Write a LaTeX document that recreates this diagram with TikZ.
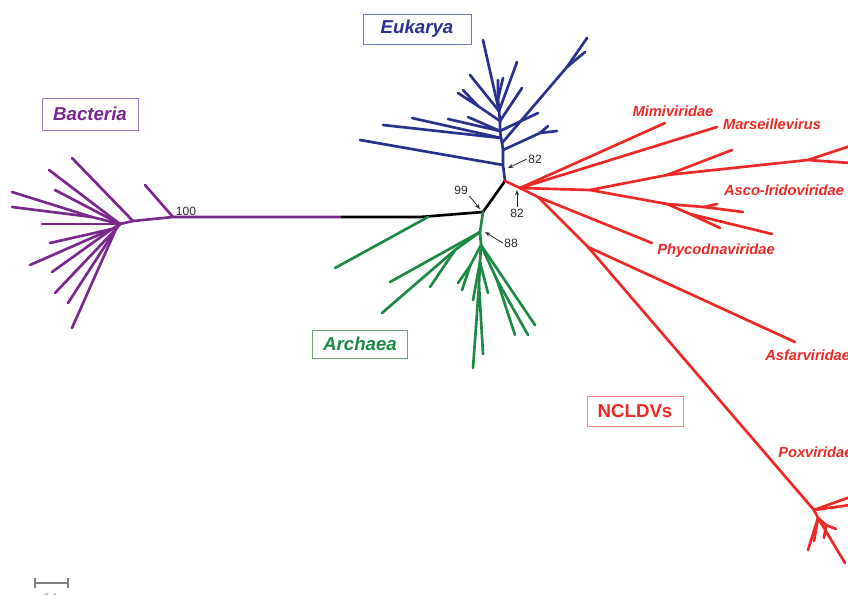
\documentclass[tikz,border=0pt]{standalone}
\usepackage{fontspec}
\setmainfont{Liberation Sans}
\usetikzlibrary{arrows.meta}
\definecolor{bac}{RGB}{122,40,142}
\definecolor{euk}{RGB}{40,50,140}
\definecolor{arc}{RGB}{28,138,68}
\definecolor{ncl}{RGB}{238,40,36}
\definecolor{bacbox}{RGB}{165,120,185}
\definecolor{eukbox}{RGB}{110,120,180}
\definecolor{arcbox}{RGB}{110,165,120}
\definecolor{nclbox}{RGB}{240,140,130}
\definecolor{numc}{RGB}{40,40,40}
\begin{document}
\begin{tikzpicture}[x=0.75pt,y=-0.75pt,
  br/.style={line width=2pt,line cap=round,line join=round},
  grpbox/.style={draw,line width=0.6pt,inner sep=0pt,font=\fontsize{14}{14}\selectfont\bfseries\itshape},
  vlab/.style={font=\fontsize{11}{11}\selectfont\bfseries\itshape,text=ncl,inner sep=0pt},
  supval/.style={font=\fontsize{9}{9}\selectfont,text=numc,inner sep=1pt},
  suparr/.style={-{Stealth[length=4pt,width=3pt]},line width=0.6pt,draw=numc}]
\useasboundingbox (0,0) rectangle (848,594);
\fill[white] (0,0) rectangle (848,594);

% ---------- Bacteria ----------
\coordinate (B0) at (342,217);
\coordinate (B1) at (173,217);
\coordinate (Bt1) at (145,185);
\coordinate (B2) at (133,221);
\coordinate (Bt2) at (72,158);
\coordinate (B3) at (120,224);
\coordinate (Bt3) at (49,170);
\coordinate (Bt4) at (55,190);
\coordinate (B6) at (92,217);
\coordinate (Bt5) at (12,192);
\coordinate (Bt6) at (12,207);
\coordinate (Bt7) at (42,224);
\coordinate (B4) at (112,229);
\coordinate (Bt8) at (50,243);
\coordinate (Bt9) at (30,265);
\coordinate (Bt10) at (52,272);
\coordinate (B5) at (116,229);
\coordinate (Bt11) at (55,293);
\coordinate (Bt12) at (68,303);
\coordinate (Bt13) at (72,328);
\begin{scope}[br,draw=bac]
\draw (B0) -- (B1) -- (B2) -- (B3);
\draw (B1) -- (Bt1);
\draw (B2) -- (Bt2);
\draw (B3) -- (Bt3);
\draw (B3) -- (Bt4);
\draw (B3) -- (B6) -- (Bt5);
\draw (B6) -- (Bt6);
\draw (B3) -- (Bt7);
\draw (B3) -- (B4) -- (Bt8);
\draw (B4) -- (Bt9);
\draw (B4) -- (Bt10);
\draw (B3) -- (B5) -- (Bt11);
\draw (B5) -- (Bt12);
\draw (B5) -- (Bt13);
\end{scope}

% ---------- backbone ----------
\coordinate (K1) at (420,217);
\coordinate (C1) at (483,212);
\coordinate (C2) at (505,181);
\draw[br,black] (B0) -- (K1) -- (C1) -- (C2);

% ---------- Eukarya ----------
\coordinate (T1) at (503,165);
\coordinate (T2) at (503,150);
\coordinate (T3) at (502,143);
\coordinate (T4) at (501,138);
\coordinate (T5) at (500,131);
\coordinate (T6) at (500,121);
\coordinate (T7) at (499,111);
\coordinate (T8) at (498,99);
\coordinate (T9) at (498,80);
\coordinate (Et1) at (360,140);
\coordinate (E2a) at (540,133);
\coordinate (Et2) at (557,131);
\coordinate (Et3) at (548,126);
\coordinate (E3a) at (567,67);
\coordinate (Et4) at (587,38);
\coordinate (Et5) at (585,52);
\coordinate (Et6) at (383,125);
\coordinate (Et7) at (412,118);
\coordinate (Et8) at (448,119);
\coordinate (Et9) at (468,117);
\coordinate (Et10) at (538,113);
\coordinate (E6a) at (478,106);
\coordinate (Et11) at (458,93);
\coordinate (Et12) at (463,90);
\coordinate (Et13) at (522,88);
\coordinate (Et14) at (470,75);
\coordinate (Et15) at (517,62);
\coordinate (Et16) at (483,40);
\coordinate (Et17) at (503,78);
\begin{scope}[br,draw=euk]
\draw (C2) -- (T1) -- (T2) -- (T3) -- (T4) -- (T5) -- (T6) -- (T7) -- (T8) -- (T9);
\draw (T1) -- (Et1);
\draw (T2) -- (E2a) -- (Et2);
\draw (E2a) -- (Et3);
\draw (T3) -- (E3a) -- (Et4);
\draw (E3a) -- (Et5);
\draw (T4) -- (Et6);
\draw (T4) -- (Et7);
\draw (T5) -- (Et8);
\draw (T5) -- (Et9);
\draw (T5) -- (Et10);
\draw (T6) -- (E6a) -- (Et11);
\draw (E6a) -- (Et12);
\draw (T6) -- (Et13);
\draw (T7) -- (Et14);
\draw (T7) -- (Et15);
\draw (T7) -- (Et16);
\draw (T8) -- (Et17);
\end{scope}

% ---------- Archaea ----------
\coordinate (Ga) at (428,217);
\coordinate (At1) at (335,268);
\coordinate (G1) at (480,232);
\coordinate (At2) at (390,282);
\coordinate (G1a) at (455,250);
\coordinate (At3) at (382,313);
\coordinate (At4) at (430,287);
\coordinate (G2) at (481,245);
\coordinate (G2a) at (470,266);
\coordinate (At5) at (462,290);
\coordinate (At6) at (458,283);
\coordinate (G3) at (480,262);
\coordinate (At7) at (473,300);
\coordinate (At8) at (488,293);
\coordinate (G4) at (479,285);
\coordinate (At9) at (473,368);
\coordinate (At10) at (483,354);
\coordinate (At11) at (535,325);
\coordinate (G5) at (497,280);
\coordinate (At12) at (515,335);
\coordinate (At13) at (528,335);
\begin{scope}[br,draw=arc]
\draw (Ga) -- (At1);
\draw (C1) -- (G1) -- (G2) -- (G3) -- (G4) -- (At9);
\draw (G1) -- (At2);
\draw (G1) -- (G1a) -- (At3);
\draw (G1a) -- (At4);
\draw (G2) -- (G2a) -- (At5);
\draw (G2a) -- (At6);
\draw (G3) -- (At7);
\draw (G3) -- (At8);
\draw (G4) -- (At10);
\draw (G2) -- (At11);
\draw (G2) -- (G5) -- (At12);
\draw (G5) -- (At13);
\end{scope}

% ---------- NCLDVs ----------
\coordinate (H) at (520,188);
\coordinate (Nt1) at (665,123);
\coordinate (Nt2) at (717,127);
\coordinate (Q) at (590,190);
\coordinate (Q1) at (667,175);
\coordinate (Nt3) at (732,150);
\coordinate (Q2) at (808,160);
\coordinate (Nt4) at (850,146);
\coordinate (Nt5) at (850,163);
\coordinate (P1) at (667,204);
\coordinate (P3) at (704,207);
\coordinate (Nt6) at (717,204);
\coordinate (Nt7) at (743,212);
\coordinate (P2) at (690,214);
\coordinate (Nt8) at (720,228);
\coordinate (Nt9) at (772,234);
\coordinate (S) at (538,197);
\coordinate (Nt10) at (652,243);
\coordinate (T) at (588,247);
\coordinate (Nt11) at (795,342);
\coordinate (U) at (814,510);
\coordinate (Nt12) at (850,497);
\coordinate (Nt13) at (850,505);
\coordinate (V) at (818,518);
\coordinate (Nt14) at (808,550);
\coordinate (Nt15) at (814,541);
\coordinate (V2) at (826,525);
\coordinate (Nt16) at (824,538);
\coordinate (Nt17) at (836,529);
\coordinate (Nt18) at (845,563);
\begin{scope}[br,draw=ncl]
\draw (C2) -- (H);
\draw (H) -- (Nt1);
\draw (H) -- (Nt2);
\draw (H) -- (Q) -- (Q1) -- (Nt3);
\draw (Q1) -- (Q2) -- (Nt4);
\draw (Q2) -- (Nt5);
\draw (Q) -- (P1) -- (P3) -- (Nt7);
\draw (P3) -- (Nt6);
\draw (P1) -- (P2) -- (Nt9);
\draw (P2) -- (Nt8);
\draw (H) -- (S) -- (Nt10);
\draw (S) -- (T) -- (Nt11);
\draw (T) -- (U) -- (Nt12);
\draw (U) -- (Nt13);
\draw (U) -- (V) -- (Nt14);
\draw (V) -- (Nt15);
\draw (V) -- (V2) -- (Nt16);
\draw (V2) -- (Nt17);
\draw (V) -- (Nt18);
\end{scope}

% ---------- group labels ----------
\node[grpbox,draw=bacbox,text=bac,minimum width=72pt,minimum height=24pt] (lbac) at (90,114) {Bacteria};
\node[grpbox,draw=eukbox,text=euk,minimum width=81pt,minimum height=22.5pt] (leuk) at (417,29) {Eukarya};
\node[grpbox,draw=arcbox,text=arc,minimum width=71pt,minimum height=21pt] (larc) at (360,344) {Archaea};
\node[grpbox,draw=nclbox,text=ncl,minimum width=72pt,minimum height=22.5pt,font=\fontsize{14}{14}\selectfont\bfseries] (lncl) at (635,411) {NCLDVs};

% ---------- virus family labels ----------
\node[vlab] (lmimi) at (673,111) {Mimiviridae};
\node[vlab] (lmars) at (772,124) {Marseillevirus};
\node[vlab] (lasco) at (784,190) {Asco-Iridoviridae};
\node[vlab] (lphyco) at (716,251) {Phycodnaviridae};
\node[vlab,anchor=west] (lasfar) at (765,355) {Asfarviridae};
\node[vlab,anchor=west] (lpox) at (778,452) {Poxviridae};

% ---------- support values ----------
\node[supval] (s100) at (186,211) {100};
\node[supval] (s82a) at (535,159) {82};
\coordinate (a82a) at (508,168);
\draw[suparr] (s82a.west) -- (a82a);
\node[supval] (s99) at (461,190) {99};
\coordinate (a99) at (480,209);
\draw[suparr] (s99.south east) -- (a99);
\node[supval] (s82b) at (517,213) {82};
\coordinate (a82b) at (517,190);
\draw[suparr] (s82b.north) -- (a82b);
\node[supval] (s88) at (511,243) {88};
\coordinate (a88) at (485,232);
\draw[suparr] (s88.west) -- (a88);

% ---------- scale bar ----------
\coordinate (sb1) at (35,583);
\coordinate (sb2) at (68,583);
\draw[line width=0.8pt,draw=gray] (sb1) -- (sb2);
\draw[line width=0.8pt,draw=gray] ([yshift=-4]sb1) -- ([yshift=4]sb1);
\draw[line width=0.8pt,draw=gray] ([yshift=-4]sb2) -- ([yshift=4]sb2);
\node[font=\fontsize{8}{8}\selectfont,text=gray,anchor=north] (sbl) at (51,589) {0.1};
\end{tikzpicture}
\end{document}
